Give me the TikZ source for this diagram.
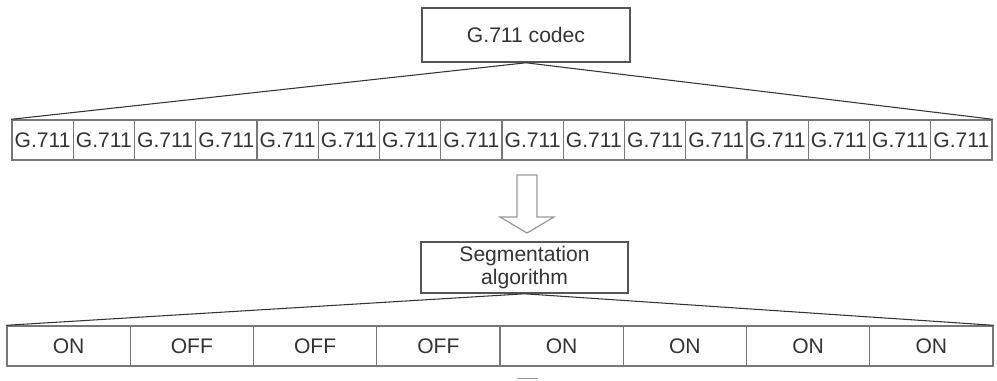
\documentclass[tikz,border=0pt]{standalone}
\usepackage{fontspec}
\setmainfont{Liberation Sans}
\definecolor{ink}{HTML}{333333}
\definecolor{rule}{HTML}{555555}
\definecolor{pale}{HTML}{999999}
\tikzset{
  box/.style={draw=rule, line width=0.9pt, text=ink, inner sep=0pt,
    font=\fontsize{12}{13}\selectfont},
  cell/.style={draw=rule!80, line width=0.8pt, text=ink, inner sep=0pt,
    minimum height=0.8cm, font=\fontsize{12}{13}\selectfont},
  fan/.style={draw=ink, line width=0.6pt},
  hollow/.style={draw=pale, line width=0.7pt}
}
\begin{document}
\begin{tikzpicture}
      \useasboundingbox (0,0) rectangle (19.94,7.62);

      \node[box, minimum width=4.16cm, minimum height=1.08cm] (codec) at (10.52, 6.92){G.711 codec};

      \foreach \i in {1,...,16}
        \node[cell, minimum width=1.225cm] (g\i) at ({0.24+1.225*(\i-0.5)}, 4.82){G.711};

      \draw[fan] (codec.south) -- (g1.north west);
      \draw[fan] (codec.south) -- (g16.north east);

      % hollow arrow down to the segmentation step
      \coordinate (arr) at (10.54, 4.12);
      \draw[hollow, shift={(arr)}] (-0.2,0) -- (-0.2,-0.84) -- (-0.54,-0.84) -- (0,-1.16)
        -- (0.54,-0.84) -- (0.2,-0.84) -- (0.2,0) -- cycle;

      \node[box, align=center, minimum width=4.14cm, minimum height=1.02cm] (seg) at (10.49, 2.27){Segmentation\\algorithm};

      \foreach \i/\s in {1/ON, 2/OFF, 3/OFF, 4/OFF, 5/ON, 6/ON, 7/ON, 8/ON}
        \node[cell, minimum width=2.465cm] (s\i) at ({0.14+2.465*(\i-0.5)}, 0.70){\s};

      \draw[fan] (seg.south) -- (s1.north west);
      \draw[fan] (seg.south) -- (s8.north east);

      \coordinate (next) at (10.54, 0.05);
      \draw[hollow] (next) +(-0.21,0) -- +(0.21,0);
    \end{tikzpicture}
\end{document}
